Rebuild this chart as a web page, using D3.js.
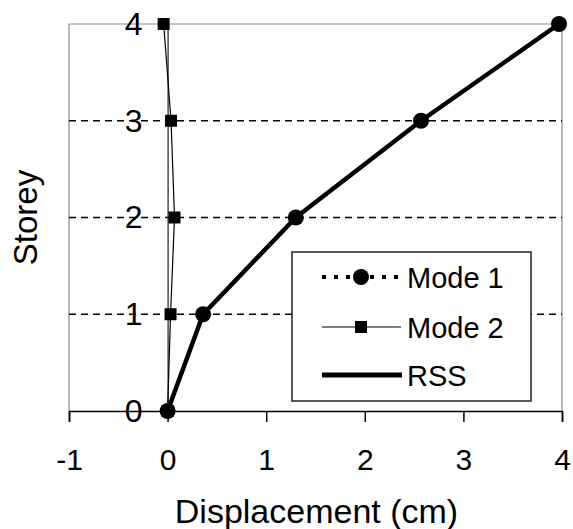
<!DOCTYPE html>
<html>
<head>
<meta charset="utf-8">
<script src="https://cdn.jsdelivr.net/npm/d3@7"></script>
<style>
  html, body { margin: 0; padding: 0; background: #fff; }
  svg { display: block; font-family: "Liberation Sans", Arial, sans-serif; }
</style>
</head>
<body>
<svg id="chart" width="573" height="529"></svg>
<script>
// Storey levels and lateral displacements (cm)
const storeys = [0, 1, 2, 3, 4];
const mode1 = [0, 0.36, 1.30, 2.57, 3.97];
const mode2 = [0, 0.03, 0.07, 0.035, -0.04];
const rss = [0, 0.36, 1.30, 2.57, 3.97];
const xTicks = [-1, 0, 1, 2, 3, 4];
const yTicks = [0, 1, 2, 3, 4];
const gridStoreys = [1, 2, 3];
const legendItems = ["Mode 1", "Mode 2", "RSS"];

const svg = d3.select("#chart");
const plot = { left: 69, right: 562, top: 24, bottom: 411 };

const x = d3.scaleLinear().domain([-1, 4]).range([plot.left, plot.right]);
const y = d3.scaleLinear().domain([0, 4]).range([plot.bottom, plot.top]);
const intLabel = d => String(d); // plain hyphen for negatives

// plot-area frame (top, left, right)
svg.append("path")
  .attr("d", `M${plot.left},${plot.bottom}V${plot.top}H${plot.right}V${plot.bottom}`)
  .attr("fill", "none").attr("stroke", "#8c8c8c").attr("stroke-width", 1.2);

// dashed storey gridlines
svg.append("g").selectAll("line").data(gridStoreys).join("line")
  .attr("x1", plot.left).attr("x2", plot.right)
  .attr("y1", d => y(d)).attr("y2", d => y(d))
  .attr("stroke", "#000").attr("stroke-width", 1.6)
  .attr("stroke-dasharray", "7,5");

// x axis along storey 0
const xAxis = svg.append("g")
  .attr("transform", `translate(0,${y(0)})`)
  .call(d3.axisBottom(x).tickValues(xTicks).tickSize(11).tickPadding(27).tickFormat(intLabel));
xAxis.select(".domain").attr("stroke", "#000").attr("stroke-width", 1.5);
xAxis.selectAll(".tick line").attr("stroke", "#000").attr("stroke-width", 1.5);
xAxis.selectAll("text").attr("font-size", 30).attr("fill", "#000")
  .attr("font-family", "Liberation Sans, Arial, sans-serif");

// y axis crossing at zero displacement
const yAxis = svg.append("g")
  .attr("transform", `translate(${x(0)},0)`)
  .call(d3.axisLeft(y).tickValues(yTicks).tickSize(0).tickPadding(25).tickFormat(intLabel));
yAxis.select(".domain").attr("stroke", "#222").attr("stroke-width", 1.2);
yAxis.selectAll("text").attr("font-size", 32).attr("fill", "#000")
  .attr("font-family", "Liberation Sans, Arial, sans-serif");

// axis titles
svg.append("text")
  .attr("x", (plot.left + plot.right) / 2 + 1).attr("y", 523)
  .attr("text-anchor", "middle").attr("font-size", 34).attr("fill", "#000")
  .text("Displacement (cm)");
svg.append("text")
  .attr("transform", `translate(37,${(plot.top + plot.bottom) / 2}) rotate(-90)`)
  .attr("text-anchor", "middle").attr("font-size", 33).attr("fill", "#000")
  .text("Storey");

const idx = d3.range(storeys.length);
const line = vals => d3.line().x(i => x(vals[i])).y(i => y(storeys[i]))(idx);

// RSS envelope
svg.append("path").attr("d", line(rss))
  .attr("fill", "none").attr("stroke", "#000").attr("stroke-width", 4.5)
  .attr("stroke-linejoin", "round");

// Mode 1: dotted line with circles
svg.append("path").attr("d", line(mode1))
  .attr("fill", "none").attr("stroke", "#000").attr("stroke-width", 3)
  .attr("stroke-dasharray", "3,5");
svg.append("g").selectAll("circle").data(idx).join("circle")
  .attr("cx", i => x(mode1[i])).attr("cy", i => y(storeys[i]))
  .attr("r", 8).attr("fill", "#000");

// Mode 2: thin line with squares
svg.append("path").attr("d", line(mode2))
  .attr("fill", "none").attr("stroke", "#000").attr("stroke-width", 1.2);
svg.append("g").selectAll("rect").data(idx).join("rect")
  .attr("x", i => x(mode2[i]) - 6).attr("y", i => y(storeys[i]) - 6)
  .attr("width", 12).attr("height", 12).attr("fill", "#000");

// legend
const lg = svg.append("g");
lg.append("rect").attr("x", 292).attr("y", 252).attr("width", 239).attr("height", 149)
  .attr("fill", "#fff").attr("stroke", "#222").attr("stroke-width", 1.5);
const rowY = [277, 327, 375];
const sx0 = 322, sx1 = 401, sxm = 361;
// Mode 1 sample
lg.append("line").attr("x1", sx0).attr("x2", sx1).attr("y1", rowY[0]).attr("y2", rowY[0])
  .attr("stroke", "#000").attr("stroke-width", 4).attr("stroke-dasharray", "4,8");
lg.append("circle").attr("cx", sxm).attr("cy", rowY[0]).attr("r", 8).attr("fill", "#000");
// Mode 2 sample
lg.append("line").attr("x1", sx0).attr("x2", sx1).attr("y1", rowY[1]).attr("y2", rowY[1])
  .attr("stroke", "#000").attr("stroke-width", 1.2);
lg.append("rect").attr("x", sxm - 6).attr("y", rowY[1] - 6).attr("width", 12).attr("height", 12).attr("fill", "#000");
// RSS sample
lg.append("line").attr("x1", sx0).attr("x2", sx1 + 1).attr("y1", rowY[2]).attr("y2", rowY[2])
  .attr("stroke", "#000").attr("stroke-width", 5);
lg.selectAll("text.lbl").data(legendItems).join("text").attr("class", "lbl")
  .attr("x", 407).attr("y", (d, i) => rowY[i] + 11)
  .attr("font-size", 29).attr("fill", "#000").text(d => d);
</script>
</body>
</html>
